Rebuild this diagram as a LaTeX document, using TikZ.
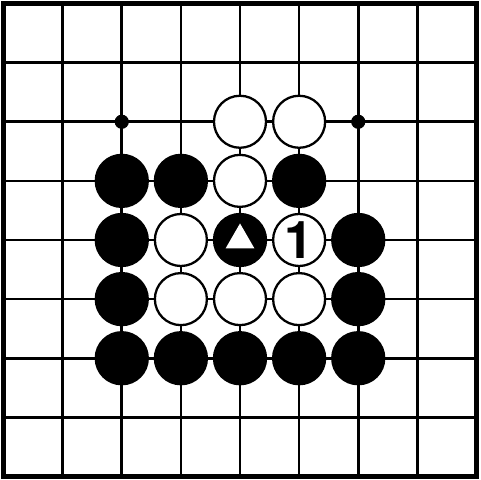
\documentclass[tikz,border=0pt]{standalone}
\usepackage{fontspec}
\newfontfamily\labelfont{TeX Gyre Heros}
\usetikzlibrary{shapes.geometric}
\tikzset{
	stone/.style={circle, draw=black, line width=1.1pt, minimum size=0.88cm, inner sep=0pt},
	blackstone/.style={stone, fill=black},
	whitestone/.style={stone, fill=white, font=\labelfont\bfseries\fontsize{25}{25}\selectfont},
	marker/.style={regular polygon, regular polygon sides=3, fill=white, minimum size=0.56cm, inner sep=0pt}
}
\begin{document}
\begin{tikzpicture}
		\useasboundingbox (-0.06,-0.06) rectangle (8.06,8.06);
		\fill[white] (-0.06,-0.06) rectangle (8.06,8.06);
		\draw[step=1cm, line width=1.3pt] (0, 0) grid (8,8);
		\draw[line width=2.4pt] (0,0) rectangle (8,8);
		% star points
		\foreach \coord/\name in {{2,6}/hoshiA, {6,6}/hoshiB}{
		\fill (\coord) circle (0.12) coordinate (\name);
		}
		% black stones
		\foreach \coord/\name in {
			{2,5}/b25, {3,5}/b35, {5,5}/b55,
			{2,4}/b24, {4,4}/b44, {6,4}/b64,
			{2,3}/b23, {6,3}/b63,
			{2,2}/b22, {3,2}/b32, {4,2}/b42, {5,2}/b52, {6,2}/b62
		}{
		\node[blackstone] (\name) at (\coord) {};
		}
		% white stones
		\foreach \coord/\label [count=\xi] in {
			{4,6}/{}, {5,6}/{},
			{4,5}/{},
			{3,4}/{}, {5,4}/{1},
			{3,3}/{}, {4,3}/{}, {5,3}/{}
		}{
		\node[whitestone] (w\xi) at (\coord) {\label};
		}
		\node[marker] (mark) at (b44) {};
		\end{tikzpicture}
\end{document}
